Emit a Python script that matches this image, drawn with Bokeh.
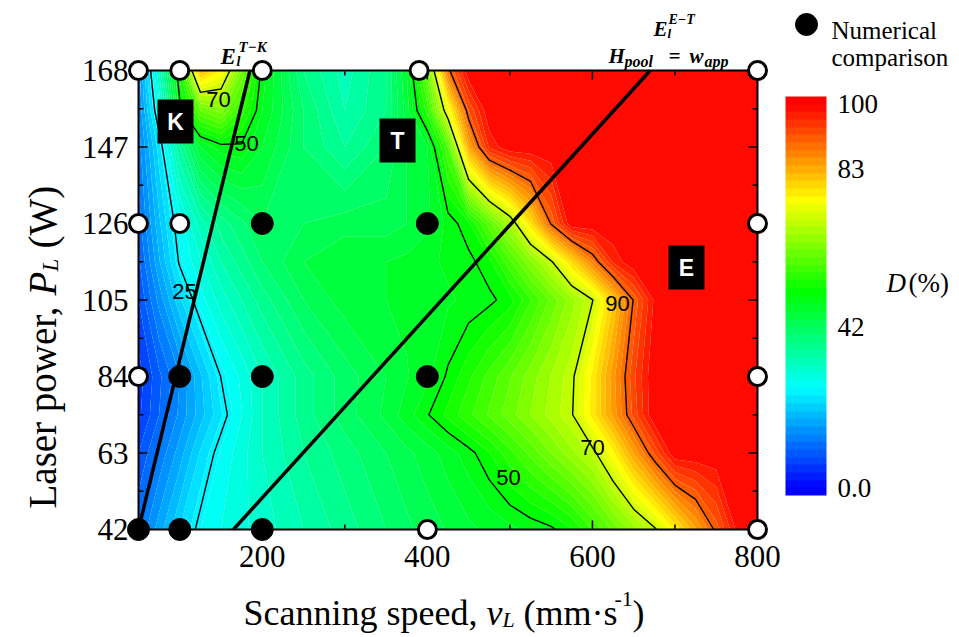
import numpy as np
from bokeh.plotting import figure
from bokeh.models import Range1d, ColorBar, LinearColorMapper, Label, FixedTicker
from bokeh.core.properties import value
from bokeh.embed import file_html
from bokeh.resources import INLINE

# ---------------- data ----------------
speeds = [50, 75, 100, 125, 150, 175, 200, 250, 300, 350, 375, 400, 425, 450,
          475, 500, 525, 550, 575, 600, 625, 650, 675, 700, 725, 750, 775, 800]
powers = [42, 63, 73.5, 84, 105, 115.5, 126, 147, 157, 168]

d_042 = [12, 17, 22, 26, 28, 29.5, 31, 34, 37, 40, 41.5, 43, 44.2, 45.5,
         46.5, 47.5, 48.5, 49.5, 51.8, 56.1, 60.5, 64.9, 69.3, 76.2, 83.5, 90.9, 98.5, 100]
d_063 = [8, 12.5, 17, 22.3, 26.4, 29.2, 32, 36, 39, 42, 43.5, 45, 47, 49.1,
         51.9, 55.3, 58.6, 62, 65.4, 68.8, 75.5, 84.1, 92.4, 100, 100, 100, 100, 100]
d_073 = [5.5, 10, 14.5, 19.1, 23.7, 27.9, 32, 37, 41, 44.5, 47.1, 49.8, 52.6, 55.5,
         58.3, 61.1, 64, 66.8, 69.7, 76.9, 84.7, 92.7, 100, 100, 100, 100, 100, 100]
d_084 = [5, 9.5, 14, 19.6, 25.1, 28.5, 32, 37, 41, 44, 45.8, 47.5, 50.4, 53.5,
         56.7, 59.8, 63, 66.1, 69.2, 76.6, 85.2, 93.5, 100, 100, 100, 100, 100, 100]
d_105 = [8, 14.7, 21.5, 27, 31, 34, 37, 42, 45, 46, 46.5, 47, 47.7, 48.5,
         49.4, 51.1, 55.8, 60.5, 65.1, 69.8, 80, 90.3, 98.4, 100, 100, 100, 100, 100]
d_115 = [9.5, 17.7, 25.5, 29.8, 34, 37, 40, 44, 46, 46, 46.5, 47.5, 48.4, 49.3,
         51.4, 57.5, 63.5, 69.5, 78.4, 87.5, 96.4, 100, 100, 100, 100, 100, 100, 100]
d_126 = [11, 19.5, 27, 33, 37, 39.5, 42, 42, 43, 43, 44, 45.5, 48.7, 51.5,
         59.2, 66.9, 77.7, 90.4, 100, 100, 100, 100, 100, 100, 100, 100, 100, 100]
d_147 = [13, 23, 36, 46, 49, 49.5, 46, 40, 36, 40, 44, 46, 58, 83.6,
         96.4, 100, 100, 100, 100, 100, 100, 100, 100, 100, 100, 100, 100, 100]
d_157 = [14, 28, 49, 60, 63, 55, 48, 40, 34, 38, 45, 55, 73.5, 92,
         100, 100, 100, 100, 100, 100, 100, 100, 100, 100, 100, 100, 100, 100]
d_168 = [15, 32, 53, 82, 76, 62, 49, 38, 33, 38, 46, 61, 89, 100,
         100, 100, 100, 100, 100, 100, 100, 100, 100, 100, 100, 100, 100, 100]

contour_levels = [25, 50, 70, 90]

# numerical-comparison points (filled) and other experiments (open)
filled_v = [50, 100, 200, 100, 200, 400, 200, 400]
filled_p = [42, 42, 42, 84, 84, 84, 126, 126]
open_v = [50, 100, 200, 390, 800, 50, 100, 800, 50, 800, 400, 800]
open_p = [168, 168, 168, 168, 168, 126, 126, 126, 84, 84, 42, 42]

# boundary lines
tk_v = [50, 185]
tk_p = [42, 168]
et_v = [165, 670]
et_p = [42, 168]

x_ticks = [200, 400, 600, 800]
x_minor = [100, 300, 500, 700]
y_ticks = [42, 63, 84, 105, 126, 147, 168]
y_minor = [52.5, 73.5, 94.5, 115.5, 136.5, 157.5]
cb_ticks = [0, 42, 83, 100]

region_names = ["K", "T", "E"]

# ---------------- layout helpers ----------------
W, H = 955, 633
BOX_L, BOX_R, BOX_T, BOX_B = 138, 757, 70, 529   # page pixels of the data box
XMIN, XMAX = speeds[0], speeds[-1]
YMIN, YMAX = powers[0], powers[-1]
KX = (XMAX - XMIN) / (BOX_R - BOX_L)   # data units per pixel
KY = (YMAX - YMIN) / (BOX_B - BOX_T)

def dx(px):
    return XMIN + (px - BOX_L) * KX

def dy(py):
    return YMAX - (py - BOX_T) * KY

STOPS = [(0, (0, 0, 255)), (26, (0, 255, 255)), (51, (0, 255, 0)),
         (75, (255, 255, 0)), (100, (255, 0, 0))]

def jet(v):
    v = min(max(v, 0), 100)
    for (a, ca), (b, cb) in zip(STOPS[:-1], STOPS[1:]):
        if v <= b:
            t = (v - a) / (b - a)
            return "#%02x%02x%02x" % tuple(int(round(ca[i] + (cb[i] - ca[i]) * t)) for i in range(3))
    return "#ff0000"

SERIF = "Liberation Serif"
SANS = "Liberation Sans"

p = figure(width=W, height=H, x_range=Range1d(dx(0), dx(W)), y_range=Range1d(dy(H), dy(0)),
           x_axis_type=None, y_axis_type=None, output_backend="svg", toolbar_location=None,
           min_border=0, background_fill_color="white", border_fill_color="white",
           outline_line_color=None)

X = np.array(speeds, dtype=float)
Y = np.array(powers, dtype=float)
Z = np.array([d_042, d_063, d_073, d_084, d_105, d_115, d_126, d_147, d_157, d_168], dtype=float)

fill_levels = list(range(-2, 103, 2))
band_colors = [jet(lo + 1) for lo in fill_levels[:-1]]

p.contour(X, Y, Z, fill_levels, fill_color=band_colors, line_color=None)
p.contour(X, Y, Z, contour_levels, fill_color=None, line_color="black", line_width=1.4)

# boundary lines
p.line(tk_v, tk_p, line_color="black", line_width=3.5)
p.line(et_v, et_p, line_color="black", line_width=3.5)

# contour labels
clabels = [("70", 218, 99), ("50", 246, 143), ("25", 184, 291),
           ("50", 508, 477), ("70", 592, 447), ("90", 617, 303)]
for t, px, py in clabels:
    p.add_layout(Label(x=dx(px), y=dy(py), text=t, text_font=SANS, text_font_size="22px",
                       text_color="black", text_align="center", text_baseline="middle"))

# region boxes
reg_v = [dx(175), dx(397), dx(686)]
reg_p = [dy(121), dy(140), dy(267)]
p.rect(reg_v, reg_p, width=36, height=44, width_units="screen", height_units="screen",
       fill_color="black", line_color=None)
p.text(reg_v, reg_p, text=region_names, text_color="white", text_font=value(SANS),
       text_font_style="bold", text_font_size="23px", text_align="center", text_baseline="middle")

# ---------------- axes: box frame, inward ticks, tick labels ----------------
p.quad(left=[XMIN], right=[XMAX], bottom=[YMIN], top=[YMAX], fill_color=None,
       line_color="black", line_width=2, level="guide")
MAJ, MIN_ = 9, 5
yt = np.array(y_ticks, float); ym = np.array(y_minor, float)
xt = np.array(x_ticks, float); xm = np.array(x_minor, float)
# left / right edges
p.segment(x0=[XMIN] * len(yt), y0=yt, x1=[XMIN + MAJ * KX] * len(yt), y1=yt, line_color="black", line_width=1.5, level="guide")
p.segment(x0=[XMIN] * len(ym), y0=ym, x1=[XMIN + MIN_ * KX] * len(ym), y1=ym, line_color="black", line_width=1.5, level="guide")
p.segment(x0=[XMAX] * len(yt), y0=yt, x1=[XMAX - MAJ * KX] * len(yt), y1=yt, line_color="black", line_width=1.5, level="guide")
p.segment(x0=[XMAX] * len(ym), y0=ym, x1=[XMAX - MIN_ * KX] * len(ym), y1=ym, line_color="black", line_width=1.5, level="guide")
# bottom / top edges
p.segment(x0=xt, y0=[YMIN] * len(xt), x1=xt, y1=[YMIN + MAJ * KY] * len(xt), line_color="black", line_width=1.5, level="guide")
p.segment(x0=xm, y0=[YMIN] * len(xm), x1=xm, y1=[YMIN + MIN_ * KY] * len(xm), line_color="black", line_width=1.5, level="guide")
p.segment(x0=xt, y0=[YMAX] * len(xt), x1=xt, y1=[YMAX - MAJ * KY] * len(xt), line_color="black", line_width=1.5, level="guide")
p.segment(x0=xm, y0=[YMAX] * len(xm), x1=xm, y1=[YMAX - MIN_ * KY] * len(xm), line_color="black", line_width=1.5, level="guide")

p.text(x=[XMIN - 10 * KX] * len(yt), y=yt, text=[str(t) for t in y_ticks], text_font=value(SERIF),
       text_font_size="31px", text_color="black", text_align="right", text_baseline="middle")
p.text(x=xt, y=[YMIN - 16 * KY] * len(xt), text=[str(t) for t in x_ticks], text_font=value(SERIF),
       text_font_size="31px", text_color="black", text_align="center", text_baseline="top")

# markers on top
p.scatter(filled_v, filled_p, size=22, fill_color="black", line_color="black", level="overlay")
p.scatter(open_v, open_p, size=18, fill_color="white", line_color="black", line_width=3, level="overlay")

# legend key
p.scatter([dx(806)], [dy(24)], size=22, fill_color="black", line_color="black", level="overlay")

def lab(text, px, py, size, style="normal", font=SERIF, angle=0.0):
    p.add_layout(Label(x=dx(px), y=dy(py), text=text, text_font=font, text_font_style=style,
                       text_font_size=size, text_color="black", text_align="left",
                       text_baseline="alphabetic", angle=angle))

lab("Numerical", 831, 30, "25px")
lab("comparison", 831, 57, "25px")

# x axis title
lab("Scanning speed,", 243, 612, "36px")
lab("v", 486, 612, "36px", "italic")
lab("L", 502, 619, "22px", "italic")
lab("(mm·s", 523, 612, "36px")
lab("-1", 614, 598, "22px")
lab(")", 632, 612, "36px")

# y axis title (rotated)
ang = np.pi / 2
lab("Laser power,", 42, 508, "39px", angle=ang)
lab("P", 42, 295, "39px", "italic", angle=ang)
lab("L", 50, 271, "23px", "italic", angle=ang)
lab("(W)", 42, 248, "39px", angle=ang)

# boundary line titles
lab("E", 220, 56, "23px", "bold italic")
lab("l", 236, 61, "14px", "bold italic")
lab("T−K", 238, 46, "15px", "bold italic")
lab("E", 653, 28, "21px", "bold italic")
lab("l", 667, 33, "13px", "bold italic")
lab("E−T", 668, 19, "14px", "bold italic")
lab("H", 608, 55, "21px", "bold italic")
lab("pool", 624, 61, "16px", "bold italic")
lab("=", 668, 55, "21px", "bold italic")
lab("w", 689, 55, "21px", "bold italic")
lab("app", 704, 61, "16px", "bold italic")

# colour bar
mapper = LinearColorMapper(palette=band_colors, low=-2, high=102)
cb = ColorBar(color_mapper=mapper, ticker=FixedTicker(ticks=cb_ticks),
              major_label_overrides={0: "0.0"}, location=(785, H - 495), width=41, height=399,
              padding=0, bar_line_color=None, major_tick_line_color=None, minor_tick_line_color=None,
              major_tick_out=0, major_tick_in=0, label_standoff=11,
              major_label_text_font=SERIF, major_label_text_font_size="27px",
              major_label_text_font_style="normal", major_label_text_color="black",
              background_fill_color=None, border_line_color=None)
p.add_layout(cb, "center")

lab("D", 886, 282, "27px", "italic")
lab("(%)", 908, 282, "27px")

open("out.html", "w").write(file_html(p, INLINE))
